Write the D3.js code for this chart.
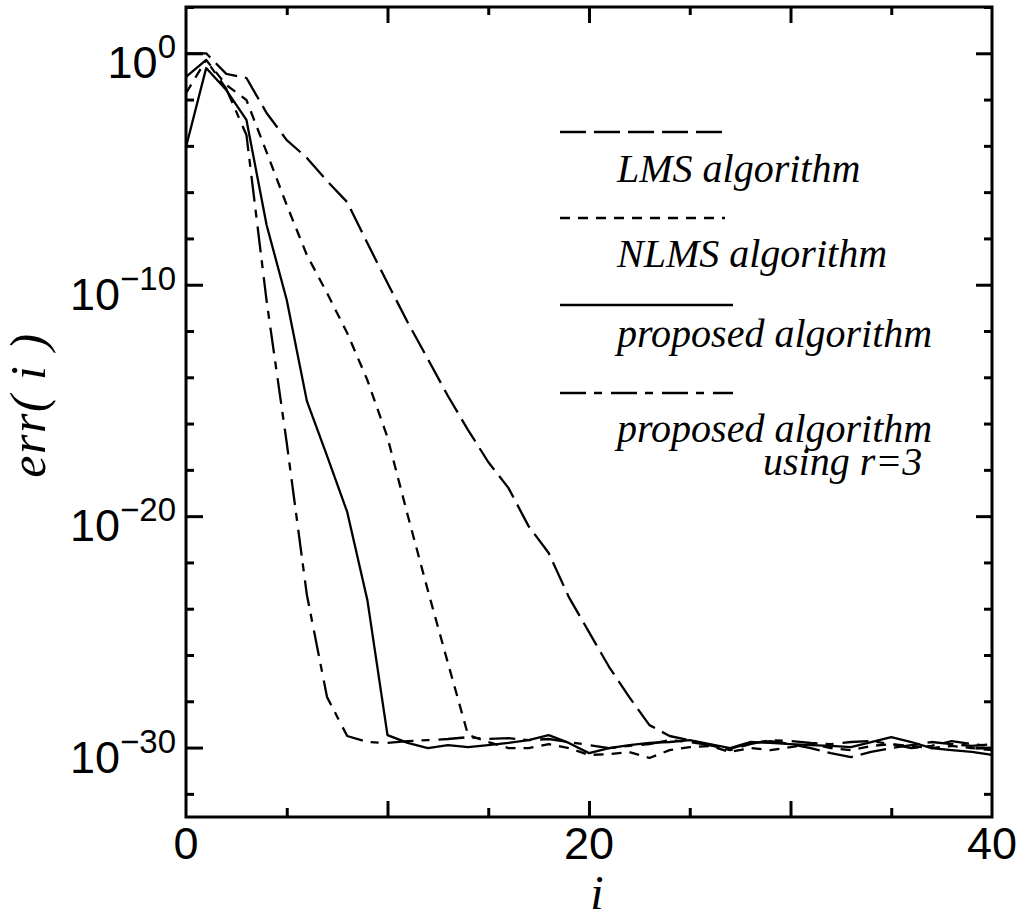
<!DOCTYPE html>
<html><head><meta charset="utf-8">
<script src="https://cdn.jsdelivr.net/npm/d3@7"></script>
<style>body{margin:0;background:#fff} svg{display:block}</style>
</head><body><svg id="c" width="1026" height="920"></svg>
<script>
// iteration index i
const iterations = [0,1,2,3,4,5,6,7,8,9,10,11,12,13,14,15,16,17,18,19,20,21,22,23,24,25,26,27,28,29,30,31,32,33,34,35,36,37,38,39,40];
// log10 of err(i)
const lmsExp = [0,0,-0.89,-1.07,-2.58,-3.75,-4.52,-5.52,-6.43,-8.2,-9.93,-11.62,-13.21,-14.81,-16.28,-17.66,-18.78,-20.43,-21.59,-23.5,-25.01,-26.52,-27.82,-29.03,-29.5,-29.68,-29.89,-30.06,-29.8,-29.72,-29.85,-30.02,-30.24,-30.41,-30.19,-30.02,-29.89,-29.76,-29.85,-29.93,-29.85];
const nlmsExp = [-1.72,-0.29,-1.37,-2.02,-4.27,-6.56,-8.72,-10.36,-12.09,-14.12,-16.6,-19.95,-23.2,-26.35,-29.46,-29.76,-30.02,-30.02,-29.85,-30.02,-30.32,-30.28,-30.19,-30.45,-30.11,-29.98,-29.93,-30.19,-30.02,-30.11,-29.98,-29.85,-30.02,-30.11,-29.93,-29.85,-29.93,-30.02,-29.93,-30.02,-30.11];
const proposedExp = [-4.05,-0.64,-1.59,-2.88,-7.42,-10.66,-15.03,-17.4,-19.82,-23.62,-29.46,-29.8,-30.02,-29.89,-29.98,-29.89,-29.8,-29.68,-29.46,-29.8,-30.24,-30.02,-29.89,-29.8,-29.76,-29.68,-29.85,-30.02,-29.76,-29.8,-29.85,-29.89,-29.93,-29.98,-29.76,-29.55,-29.76,-30.02,-30.11,-30.19,-30.32];
const proposedR3Exp = [-1.02,-0.29,-1.54,-3.53,-10.7,-16.84,-23.41,-27.82,-29.5,-29.76,-29.8,-29.72,-29.68,-29.63,-29.55,-29.63,-29.59,-29.68,-29.63,-29.76,-29.89,-30.02,-29.93,-29.85,-29.68,-29.76,-29.89,-30.11,-29.85,-29.68,-29.72,-29.8,-29.85,-29.76,-29.72,-29.85,-30.02,-29.93,-29.72,-29.85,-29.93];

const xTickLabels = [0,20,40];
const xMajorTicks = [10,20,30];
const xMinorTicks = [5,15,25,35];
const yLabelExps = [0,-10,-20,-30];
const yMinorExps = [2,-2,-4,-6,-8,-12,-14,-16,-18,-22,-24,-26,-28,-32];
const legendNames = ["LMS algorithm","NLMS algorithm","proposed algorithm","proposed algorithm"];
const legendExtra = "using r=3";

const L = 186, R = 992, T = 7, B = 817;
const svg = d3.select("#c");
const x = d3.scaleLinear().domain([0,40]).range([L,R]);
const y = d3.scaleLog().domain([1e-33,1e2]).range([B,T]);

const styles = [
  {data: lmsExp, dash: "26,8"},
  {data: nlmsExp, dash: "10,8"},
  {data: proposedExp, dash: null},
  {data: proposedR3Exp, dash: "26,8,8,9"}
];

const line = d3.line().x((d,i)=>x(iterations[i])).y(d=>y(Math.pow(10,d)));
const gLines = svg.append("g");
styles.forEach(s=>{
  gLines.append("path").attr("d", line(s.data))
    .attr("fill","none").attr("stroke","#000").attr("stroke-width",2.3)
    .attr("stroke-linejoin","round")
    .attr("stroke-dasharray", s.dash);
});

// axes ticks (inward, both sides)
function tickAxis(axisFn, scale, vals, size, transform){
  const a = axisFn(scale).tickValues(vals).tickSize(size).tickFormat("");
  const g = svg.append("g").attr("transform", transform).call(a);
  g.select(".domain").remove();
  g.selectAll(".tick line").attr("stroke","#000").attr("stroke-width",3);
}
tickAxis(d3.axisBottom, x, xMajorTicks, -16, `translate(0,${B})`);
tickAxis(d3.axisBottom, x, xMinorTicks, -9, `translate(0,${B})`);
tickAxis(d3.axisTop, x, xMajorTicks, -16, `translate(0,${T})`);
tickAxis(d3.axisTop, x, xMinorTicks, -8, `translate(0,${T})`);
const yMaj = yLabelExps.map(e=>Math.pow(10,e));
const yMin = yMinorExps.map(e=>Math.pow(10,e));
tickAxis(d3.axisLeft, y, yMaj, -17, `translate(${L},0)`);
tickAxis(d3.axisLeft, y, yMin, -8, `translate(${L},0)`);
tickAxis(d3.axisRight, y, yMaj, -16, `translate(${R},0)`);
tickAxis(d3.axisRight, y, yMin, -8, `translate(${R},0)`);

svg.append("rect").attr("x",L).attr("y",T).attr("width",R-L).attr("height",B-T)
  .attr("fill","none").attr("stroke","#000").attr("stroke-width",3);

// y labels
const sans = "'Liberation Sans', Arial, Helvetica, sans-serif";
yLabelExps.forEach(e=>{
  const yy = y(Math.pow(10,e));
  const t = svg.append("text").attr("x",176).attr("y",yy+25)
    .attr("text-anchor","end").attr("font-family",sans).attr("fill","#000");
  t.append("tspan").attr("font-size",45).text("10");
  t.append("tspan").attr("font-size",33).attr("dy",-20).text(e===0?"0":"\u2212"+Math.abs(e));
});
// x labels
xTickLabels.forEach(v=>{
  svg.append("text").attr("x",x(v)).attr("y",859).attr("text-anchor","middle")
    .attr("font-family",sans).attr("font-size",45).attr("fill","#000").text(v);
});
const serif = "'Liberation Serif', 'Times New Roman', Times, serif";
svg.append("text").attr("x",597).attr("y",909).attr("text-anchor","middle")
  .attr("font-family",serif).attr("font-style","italic").attr("font-size",48).text("i");
svg.append("text").attr("transform","translate(45,405) rotate(-90)").attr("text-anchor","middle")
  .attr("font-family",serif).attr("font-style","italic").attr("font-size",50)
  .attr("letter-spacing",1.5)
  .attr("xml:space","preserve").text("err( i )");

// legend
const legY = [132,218,305,393];
const legX2 = [725,725,733,733];
const legTextY = [182,267,347,442];
styles.forEach((s,k)=>{
  svg.append("path").attr("d", d3.line()([[560,legY[k]],[legX2[k],legY[k]]]))
    .attr("stroke","#000").attr("stroke-width",2.3).attr("fill","none")
    .attr("stroke-dasharray", s.dash);
  const t = svg.append("text").attr("x",617).attr("y",legTextY[k])
    .attr("font-family",serif).attr("font-style","italic").attr("font-size",40);
  t.append("tspan").text(legendNames[k]);
  if (k === 3) {
    t.append("tspan").attr("x",763).attr("dy",33).text(legendExtra);
  }
});
</script></body></html>
